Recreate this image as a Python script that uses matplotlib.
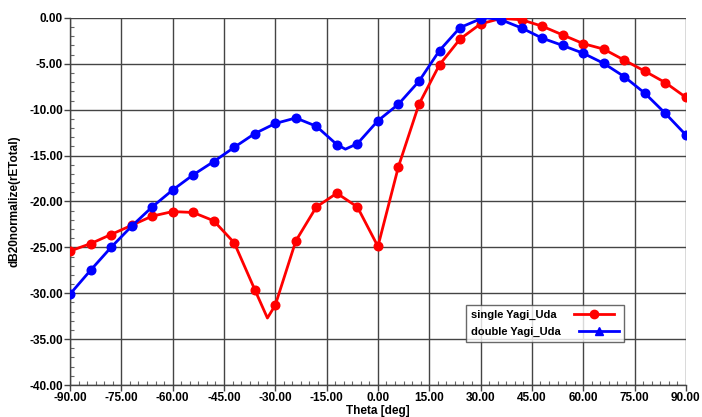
import matplotlib
matplotlib.use("Agg")
import matplotlib.pyplot as plt
from matplotlib.lines import Line2D
from matplotlib.ticker import MultipleLocator, FormatStrFormatter
import numpy as np

# single Yagi_Uda (markers every 6 deg, plus read-off extremum points)
theta_single = [-90, -84, -78, -72, -66, -60, -54, -48, -42, -36, -32.3, -30, -24, -18, -12,
                -6, 0, 6, 12, 18, 24, 30, 36, 42, 48, 54, 60, 66, 72, 78, 84, 90]
db_single = [-25.4, -24.6, -23.6, -22.6, -21.6, -21.1, -21.2, -22.1, -24.5, -29.6, -32.7, -31.3,
             -24.3, -20.6, -19.1, -20.6, -24.9, -16.2, -9.4, -5.1, -2.3, -0.65, -0.05, -0.2,
             -0.9, -1.85, -2.8, -3.4, -4.6, -5.8, -7.05, -8.65]

# double Yagi_Uda
theta_double = [-90, -84, -78, -72, -66, -60, -54, -48, -42, -36, -30, -24, -18, -12, -9.5,
                -6, 0, 6, 12, 18, 24, 30, 32, 36, 42, 48, 54, 60, 66, 72, 78, 84, 90]
db_double = [-30.1, -27.5, -25.0, -22.7, -20.6, -18.75, -17.1, -15.65, -14.1, -12.6, -11.5,
             -10.9, -11.8, -13.8, -14.3, -13.7, -11.2, -9.4, -6.9, -3.55, -1.05, -0.1, 0.0,
             -0.2, -1.1, -2.2, -3.0, -3.85, -4.95, -6.4, -8.2, -10.4, -12.75]

labels = ["single Yagi_Uda", "double Yagi_Uda"]

plt.rcParams['font.family'] = ['Liberation Sans', 'DejaVu Sans']
plt.rcParams['font.weight'] = 'bold'

fig = plt.figure(figsize=(7.02, 4.17), dpi=100)
ax = fig.add_axes([0.0997, 0.0767, 0.8773, 0.8803])

def marks(th):
    return [i for i, t in enumerate(th) if float(t).is_integer() and int(t) % 6 == 0]

ax.plot(theta_single, db_single, color='#ff0000', lw=2.0, marker='o', ms=6.2,
        markevery=marks(theta_single), zorder=3)
ax.plot(theta_double, db_double, color='#0000ff', lw=2.0, marker='o', ms=6.2,
        markevery=marks(theta_double), zorder=3)

ax.set_xlim(-90, 90)
ax.set_ylim(-40, 0)
ax.xaxis.set_major_locator(MultipleLocator(15))
ax.yaxis.set_major_locator(MultipleLocator(5))
ax.xaxis.set_minor_locator(MultipleLocator(2.5))
ax.yaxis.set_minor_locator(MultipleLocator(1))
ax.xaxis.set_major_formatter(FormatStrFormatter('%.2f'))
ax.yaxis.set_major_formatter(FormatStrFormatter('%.2f'))
ax.grid(True, which='major', color='#444444', lw=1.0)
ax.set_axisbelow(True)

for s in ['top', 'right']:
    ax.spines[s].set_visible(False)
for s in ['left', 'bottom']:
    ax.spines[s].set_color('#444444')
    ax.spines[s].set_linewidth(1.0)

ax.tick_params(which='major', direction='out', length=4, width=1, color='#444444',
               labelsize=8.5, pad=1)
ax.tick_params(which='minor', direction='in', length=3, width=0.8, color='#666666')
for lab in ax.get_xticklabels() + ax.get_yticklabels():
    lab.set_fontweight('bold')

ax.set_xlabel('Theta [deg]', fontsize=8.5, fontweight='bold', labelpad=1)
ax.set_ylabel('dB20normalize(rETotal)', fontsize=8.5, fontweight='bold', labelpad=6)

handles = [Line2D([], [], color='#ff0000', lw=2, marker='o', ms=6),
           Line2D([], [], color='#0000ff', lw=2, marker='^', ms=6)]
leg = ax.legend(handles, labels, loc='upper left', bbox_to_anchor=(0.643, 0.218),
                markerfirst=False, fancybox=False, frameon=True, edgecolor='#444444',
                prop={'weight': 'bold', 'size': 8}, handlelength=3.6,
                borderpad=0.45, labelspacing=0.65, handletextpad=1.6, borderaxespad=0)
leg.get_frame().set_linewidth(1.0)
try:
    for col in leg._legend_handle_box.get_children():
        col.align = 'left'
except Exception:
    pass

fig.savefig('out.png', dpi=100)
